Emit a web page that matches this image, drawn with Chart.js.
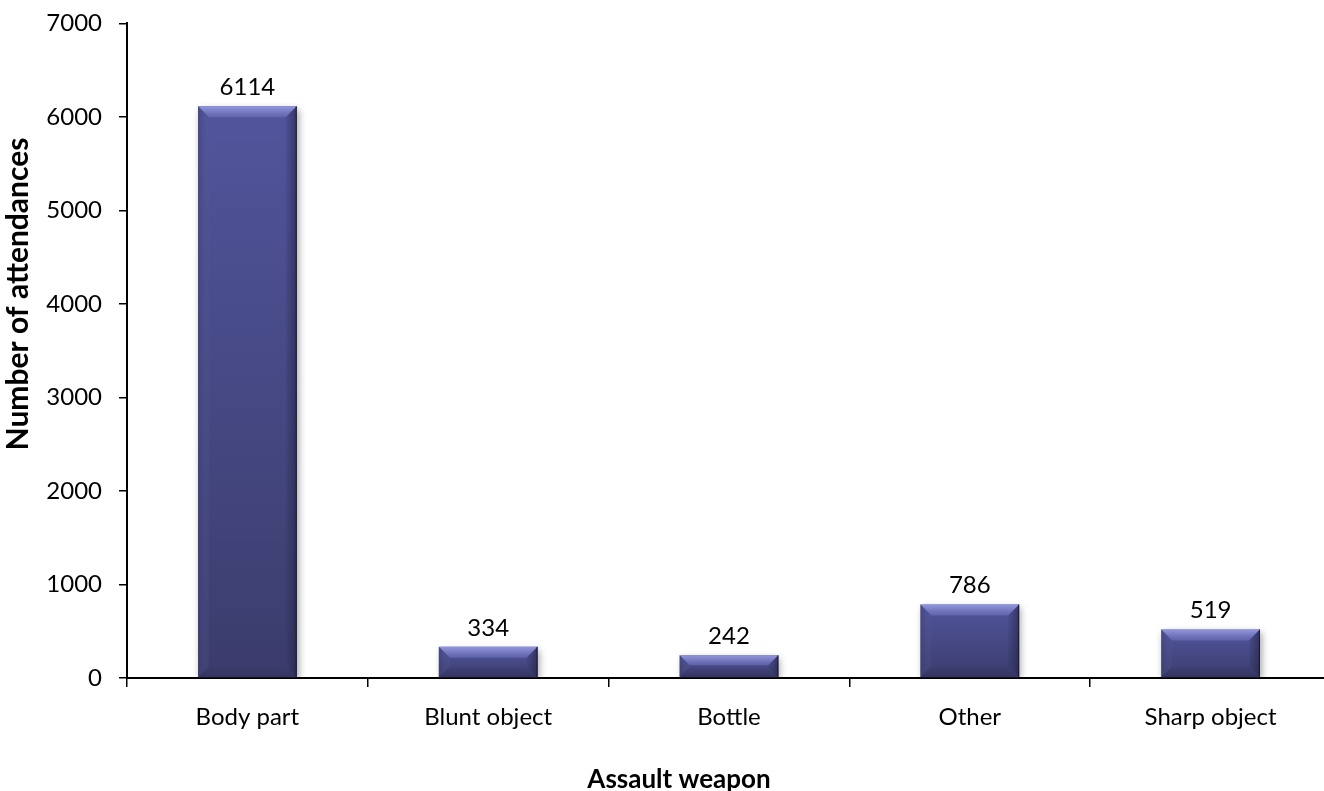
<!DOCTYPE html>
<html>
<head>
<meta charset="utf-8">
<script src="https://cdn.jsdelivr.net/npm/chart.js@4"></script>
<style>
  html, body { margin: 0; padding: 0; background: #fff; overflow: hidden; }
  #wrap { position: relative; top: -8px; width: 1331px; height: 799px; }
</style>
</head>
<body>
<div id="wrap"><canvas id="c"></canvas></div>
<script>
const categories = ['Body part', 'Blunt object', 'Bottle', 'Other', 'Sharp object'];
const attendances = [6114, 334, 242, 786, 519];
const yTicks = [0, 1000, 2000, 3000, 4000, 5000, 6000, 7000];
const xTitle = 'Assault weapon';
const yTitle = 'Number of attendances';

const FONT = 'Lato, "Open Sans", sans-serif';
const TICK_SIZE = 24;

// Vertical gradient per bar: lighter at the top, darker towards the base
function barFill(ctx) {
  const chart = ctx.chart;
  const y = chart.scales.y;
  if (!y || typeof ctx.raw !== 'number') return '#474a88';
  const top = y.getPixelForValue(ctx.raw);
  const base = y.getPixelForValue(0);
  if (!isFinite(top) || !isFinite(base) || top === base) return '#474a88';
  const g = chart.ctx.createLinearGradient(0, top, 0, base);
  g.addColorStop(0, '#51559c');
  g.addColorStop(1, '#3b3c6c');
  return g;
}

// Soft shadow under the bars
const barShadow = {
  id: 'barShadow',
  beforeDatasetsDraw(chart) {
    const c = chart.ctx;
    c.save();
    c.shadowColor = 'rgba(0,0,0,0.35)';
    c.shadowBlur = 7;
    c.shadowOffsetX = 2;
    c.shadowOffsetY = 3;
  },
  afterDatasetsDraw(chart) {
    chart.ctx.restore();
  }
};

// Bevelled edges and value labels on top of each bar
const bevelAndLabels = {
  id: 'bevelAndLabels',
  afterDatasetsDraw(chart) {
    const c = chart.ctx;
    const meta = chart.getDatasetMeta(0);
    const values = chart.data.datasets[0].data;
    meta.data.forEach((bar, i) => {
      const p = bar.getProps(['x', 'y', 'base', 'width'], true);
      const l = p.x - p.width / 2, r = p.x + p.width / 2;
      const t = p.y, b = p.base;
      const h = b - t;
      if (!isFinite(t) || !isFinite(b) || h <= 0) return;
      const s = Math.min(11, h / 2.2, p.width / 2.2);
      c.save();
      // top bevel
      let g = c.createLinearGradient(0, t, 0, t + s);
      g.addColorStop(0, 'rgba(150,155,225,0.95)');
      g.addColorStop(1, 'rgba(110,115,190,0.55)');
      c.fillStyle = g;
      c.beginPath();
      c.moveTo(l, t); c.lineTo(r, t); c.lineTo(r - s, t + s); c.lineTo(l + s, t + s); c.closePath();
      c.fill();
      // left bevel
      g = c.createLinearGradient(l, 0, l + s, 0);
      g.addColorStop(0, 'rgba(60,62,110,0.55)');
      g.addColorStop(1, 'rgba(90,95,160,0.15)');
      c.fillStyle = g;
      c.beginPath();
      c.moveTo(l, t); c.lineTo(l + s, t + s); c.lineTo(l + s, b - s); c.lineTo(l, b); c.closePath();
      c.fill();
      // right bevel
      g = c.createLinearGradient(r - s, 0, r, 0);
      g.addColorStop(0, 'rgba(40,42,80,0.1)');
      g.addColorStop(1, 'rgba(30,31,60,0.6)');
      c.fillStyle = g;
      c.beginPath();
      c.moveTo(r, t); c.lineTo(r, b); c.lineTo(r - s, b - s); c.lineTo(r - s, t + s); c.closePath();
      c.fill();
      // bottom bevel
      g = c.createLinearGradient(0, b - s, 0, b);
      g.addColorStop(0, 'rgba(50,52,95,0.1)');
      g.addColorStop(1, 'rgba(40,41,80,0.45)');
      c.fillStyle = g;
      c.beginPath();
      c.moveTo(l, b); c.lineTo(r, b); c.lineTo(r - s, b - s); c.lineTo(l + s, b - s); c.closePath();
      c.fill();
      // thin dark outline on the right edge
      c.strokeStyle = 'rgba(20,20,45,0.8)';
      c.lineWidth = 1;
      c.beginPath();
      c.moveTo(r - 0.5, t); c.lineTo(r - 0.5, b);
      c.stroke();
      // value label
      c.fillStyle = '#000';
      c.font = TICK_SIZE + 'px ' + FONT;
      c.textAlign = 'center';
      c.textBaseline = 'middle';
      c.fillText(String(values[i]), p.x, t - 19);
      c.restore();
    });
  }
};

// Axis titles, placed by hand rather than centred on the plot
const axisTitles = {
  id: 'axisTitles',
  afterDraw(chart) {
    const c = chart.ctx;
    c.save();
    c.fillStyle = '#000';
    c.textAlign = 'center';
    c.textBaseline = 'middle';
    c.font = 'bold 26px ' + FONT;
    c.fillText(xTitle, 679, 788);
    c.translate(18, 302);
    c.rotate(-Math.PI / 2);
    c.font = 'bold 30px ' + FONT;
    c.fillText(yTitle, 0, 0);
    c.restore();
  }
};

new Chart(document.getElementById('c'), {
  type: 'bar',
  data: {
    labels: categories,
    datasets: [{
      data: attendances,
      backgroundColor: barFill,
      borderWidth: 0,
      barPercentage: 0.41,
      categoryPercentage: 1
    }]
  },
  options: {
    responsive: true,
    maintainAspectRatio: false,
    animation: false,
    layout: { padding: { top: 12, right: 0, left: 0, bottom: 0 } },
    plugins: {
      legend: { display: false },
      tooltip: { enabled: false }
    },
    scales: {
      x: {
        grid: {
          display: true,
          offset: true,
          drawOnChartArea: false,
          drawTicks: true,
          tickLength: 9,
          color: '#000',
          lineWidth: 1.5
        },
        border: { display: true, color: '#000', width: 2 },
        ticks: {
          color: '#000',
          font: { family: FONT, size: TICK_SIZE },
          padding: 16,
          maxRotation: 0
        },
        title: { display: false },
        afterFit(scale) { scale.height = 113; }
      },
      y: {
        min: 0,
        max: 7000,
        afterBuildTicks(scale) { scale.ticks = yTicks.map(v => ({ value: v })); },
        grid: {
          display: true,
          drawOnChartArea: false,
          drawTicks: true,
          tickLength: 8,
          color: '#000',
          lineWidth: 1.5
        },
        border: { display: true, color: '#000', width: 2 },
        ticks: {
          color: '#000',
          font: { family: FONT, size: TICK_SIZE },
          padding: 17,
          callback: v => String(v)
        },
        title: { display: false },
        afterFit(scale) { scale.width = 127; }
      }
    }
  },
  plugins: [barShadow, bevelAndLabels, axisTitles]
});
</script>
</body>
</html>
